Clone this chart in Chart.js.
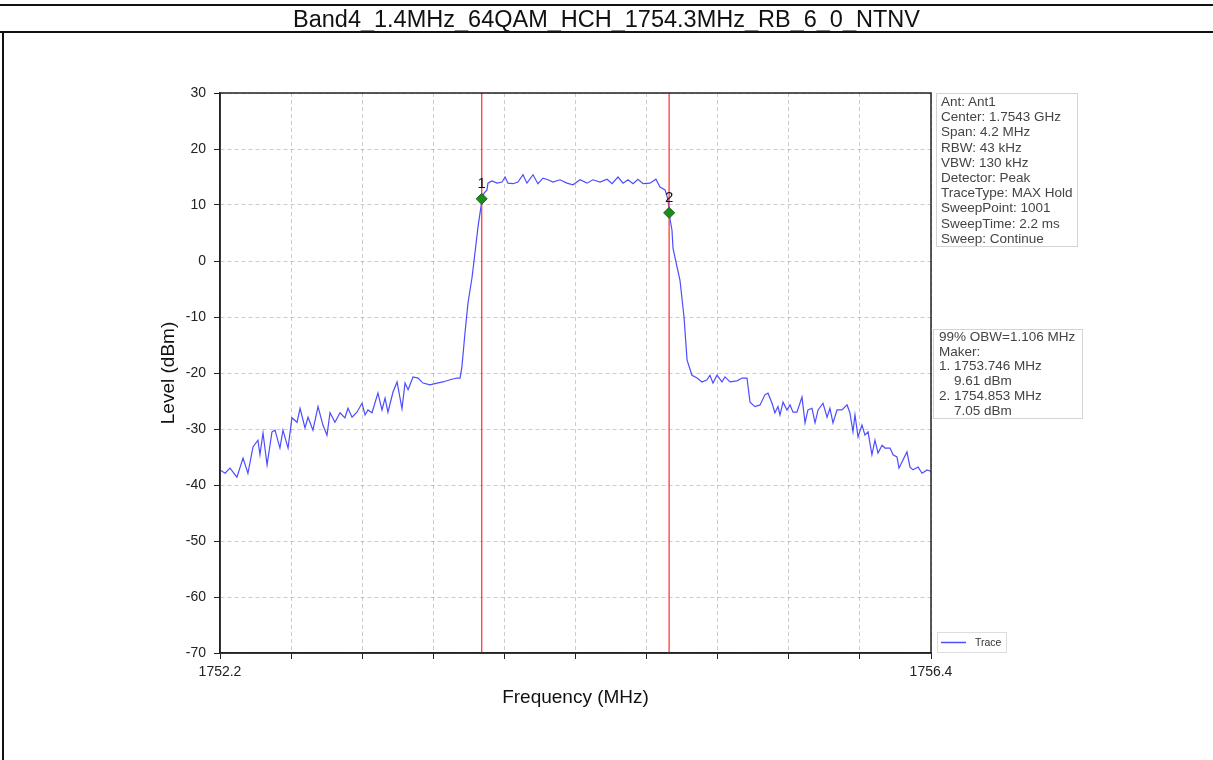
<!DOCTYPE html>
<html>
<head>
<meta charset="utf-8">
<script src="https://cdn.jsdelivr.net/npm/chart.js@4.4.1/dist/chart.umd.min.js"></script>
<style>
  body { margin: 0; background: #fff; font-family: Arial, "Liberation Sans", sans-serif; }
  #page { position: relative; width: 1213px; height: 760px; overflow: hidden; }
  #title { position: absolute; left: 0; top: 4px; width: 1213px; height: 29px;
    border-top: 2px solid #111; border-bottom: 2px solid #111; box-sizing: border-box;
    text-align: center; font-size: 23.5px; line-height: 27px; color: #111; }
  #leftRule { position: absolute; left: 2px; top: 33px; width: 2px; height: 727px; background: #111; }
  #wrap { position: absolute; left: 0; top: 0; width: 1213px; height: 760px; }
  .info { position: absolute; border: 1px solid #d4d4d4; color: #444; font-size: 13.5px;
    white-space: pre; box-sizing: border-box; }
  #info1 { left: 936px; top: 93px; width: 142px; height: 154px; padding: 0 0 0 4px; line-height: 15.2px; }
  #info2 { left: 933px; top: 329px; width: 150px; height: 90px; padding: 0 0 0 5px; line-height: 14.7px; }
</style>
</head>
<body>
<div id="page">
  <div id="wrap"><canvas id="c"></canvas></div>
  <div id="title">Band4_1.4MHz_64QAM_HCH_1754.3MHz_RB_6_0_NTNV</div>
  <div id="leftRule"></div>
  <div class="info" id="info1">Ant: Ant1
Center: 1.7543 GHz
Span: 4.2 MHz
RBW: 43 kHz
VBW: 130 kHz
Detector: Peak
TraceType: MAX Hold
SweepPoint: 1001
SweepTime: 2.2 ms
Sweep: Continue</div>
  <div class="info" id="info2">99% OBW=1.106 MHz
Maker:
1. 1753.746 MHz
    9.61 dBm
2. 1754.853 MHz
    7.05 dBm</div>
</div>
<script>
// trace (MHz / dBm)
const freqs = [
  1752.200, 1752.230, 1752.259, 1752.300, 1752.336, 1752.365, 1752.395, 1752.424, 1752.436, 1752.454,
  1752.478, 1752.507, 1752.525, 1752.554, 1752.572, 1752.602, 1752.625, 1752.655, 1752.673, 1752.702,
  1752.720, 1752.749, 1752.779, 1752.808, 1752.832, 1752.850, 1752.879, 1752.909, 1752.938, 1752.956,
  1752.980, 1753.009, 1753.039, 1753.057, 1753.074, 1753.098, 1753.133, 1753.157, 1753.175, 1753.192,
  1753.222, 1753.246, 1753.275, 1753.293, 1753.311, 1753.340, 1753.370, 1753.399, 1753.440, 1753.482,
  1753.517, 1753.559, 1753.600,
  1753.618, 1753.629, 1753.647, 1753.665, 1753.689, 1753.706, 1753.724, 1753.748, 1753.759, 1753.777,
  1753.783, 1753.807, 1753.836, 1753.866, 1753.884, 1753.901, 1753.931, 1753.960, 1753.990, 1754.013,
  1754.049, 1754.078, 1754.108, 1754.137, 1754.167, 1754.208, 1754.250, 1754.285, 1754.327, 1754.368,
  1754.403, 1754.445, 1754.486, 1754.516, 1754.551, 1754.581, 1754.610, 1754.640, 1754.669, 1754.699,
  1754.740, 1754.775, 1754.799, 1754.829, 1754.846, 1754.858, 1754.870, 1754.876, 1754.900, 1754.917,
  1754.941, 1754.959,
  1754.988, 1755.018, 1755.047, 1755.077, 1755.094, 1755.112, 1755.136, 1755.165, 1755.183, 1755.213,
  1755.254, 1755.284, 1755.313, 1755.331, 1755.360, 1755.390, 1755.419, 1755.437, 1755.461, 1755.478,
  1755.496, 1755.508, 1755.526, 1755.549, 1755.567, 1755.585, 1755.608, 1755.638, 1755.656, 1755.673,
  1755.697, 1755.715, 1755.733, 1755.762, 1755.786, 1755.803, 1755.821, 1755.845, 1755.874, 1755.904,
  1755.921, 1755.939, 1755.951, 1755.969, 1755.992, 1756.010, 1756.028, 1756.051, 1756.069, 1756.087,
  1756.111, 1756.128, 1756.158, 1756.176, 1756.199, 1756.211, 1756.235, 1756.258, 1756.276, 1756.294,
  1756.324, 1756.347, 1756.377, 1756.394, 1756.400
];
const levels = [
  -37.3, -37.9, -37.0, -38.6, -35.2, -37.9, -33.2, -32.0, -34.6, -30.7,
  -36.4, -30.5, -30.2, -33.4, -30.2, -33.4, -28.0, -28.8, -26.3, -29.8,
  -27.9, -30.2, -26.0, -29.3, -31.1, -27.1, -28.8, -27.1, -28.0, -26.3,
  -27.9, -27.0, -25.4, -27.5, -26.6, -27.1, -23.6, -26.6, -24.5, -27.0,
  -23.4, -21.6, -26.4, -21.8, -23.0, -20.7, -20.9, -21.8, -22.1, -21.8,
  -21.6, -21.2, -20.9,
  -20.9, -18.9, -12.9, -7.5, -2.9, 1.4, 6.1, 11.0, 12.1, 12.7,
  13.9, 14.3, 13.9, 14.1, 15.0, 13.9, 13.8, 14.1, 15.4, 13.9,
  15.4, 13.8, 14.8, 14.5, 14.1, 14.5, 13.9, 13.6, 14.5, 13.9,
  14.5, 14.1, 14.6, 13.8, 15.0, 13.9, 14.5, 13.8, 14.6, 13.8,
  13.9, 14.6, 13.2, 12.7, 11.0, 7.5, 5.5, 2.3, -1.1, -3.4,
  -10.0, -17.7,
  -20.4, -20.9, -21.6, -21.2, -20.4, -21.8, -20.4, -21.6, -20.7, -21.6,
  -21.4, -20.9, -20.9, -25.2, -26.0, -25.7, -23.9, -23.6, -25.4, -27.1,
  -26.0, -27.5, -25.2, -26.6, -25.7, -27.0, -27.0, -24.3, -28.9, -26.6,
  -26.3, -28.9, -26.6, -25.4, -27.9, -26.3, -28.9, -26.6, -26.6, -25.7,
  -27.1, -30.5, -27.5, -31.4, -29.3, -31.1, -30.5, -34.6, -32.0, -34.3,
  -32.9, -33.4, -33.4, -34.6, -35.0, -37.0, -35.5, -34.1, -36.8, -37.3,
  -36.8, -37.9, -37.3, -37.5, -37.6
];

const markerFreqs = [1753.746, 1754.853];
const markerLevels = [11.1, 8.6];

const xTicks = [1752.2, 1752.62, 1753.04, 1753.46, 1753.88, 1754.3, 1754.72, 1755.14, 1755.56, 1755.98, 1756.4];
const yMin = -70, yMax = 30, yStep = 10;

const gridColor = 'rgba(0,0,0,0.2)';
const tickFont = { family: 'Arial, "Liberation Sans", sans-serif', size: 14 };
const titleFont = { family: 'Arial, "Liberation Sans", sans-serif', size: 19 };

const trace = freqs.map((f, i) => ({ x: f, y: levels[i] }));
const markerLines = markerFreqs.map(f => [{ x: f, y: yMin }, { x: f, y: yMax }]);

const extras = {
  id: 'extras',
  afterDraw(chart) {
    const { ctx, chartArea: a, scales: { x, y } } = chart;
    ctx.save();
    // full frame round the plot
    ctx.strokeStyle = '#222';
    ctx.lineWidth = 1.5;
    ctx.strokeRect(a.left, a.top, a.right - a.left, a.bottom - a.top);
    // marker numbers
    ctx.fillStyle = '#111';
    ctx.font = '15px Arial, "Liberation Sans", sans-serif';
    ctx.textAlign = 'center';
    ctx.textBaseline = 'middle';
    markerFreqs.forEach((f, i) => {
      ctx.fillText(String(i + 1), x.getPixelForValue(f), y.getPixelForValue(markerLevels[i]) - 15);
    });
    // legend box, bottom right outside the plot
    const lx = a.right + 6, ly = a.bottom - 21;
    ctx.fillStyle = '#fff';
    ctx.fillRect(lx, ly, 69, 20);
    ctx.strokeStyle = '#ddd';
    ctx.lineWidth = 1;
    ctx.strokeRect(lx + 0.5, ly + 0.5, 69, 20);
    ctx.strokeStyle = chart.data.datasets[3].borderColor;
    ctx.lineWidth = 1.5;
    ctx.beginPath();
    ctx.moveTo(lx + 4, ly + 10.5);
    ctx.lineTo(lx + 29, ly + 10.5);
    ctx.stroke();
    ctx.fillStyle = '#333';
    ctx.font = '10.5px Arial, "Liberation Sans", sans-serif';
    ctx.textAlign = 'left';
    ctx.fillText(chart.data.datasets[3].label, lx + 38, ly + 11);
    ctx.restore();
  }
};

new Chart(document.getElementById('c'), {
  type: 'line',
  data: {
    datasets: [
      {
        label: 'Marker',
        data: markerFreqs.map((f, i) => ({ x: f, y: markerLevels[i] })),
        showLine: false,
        pointStyle: 'rectRot',
        pointRadius: 5.5,
        backgroundColor: '#1c8a1c',
        borderColor: '#136813',
        borderWidth: 1
      },
      {
        label: 'M1',
        data: markerLines[0],
        borderColor: '#ff3b3b',
        borderWidth: 1.3,
        pointRadius: 0
      },
      {
        label: 'M2',
        data: markerLines[1],
        borderColor: '#ff3b3b',
        borderWidth: 1.3,
        pointRadius: 0
      },
      {
        label: 'Trace',
        data: trace,
        borderColor: '#4d4dff',
        borderWidth: 1.2,
        pointRadius: 0,
        tension: 0
      }
    ]
  },
  options: {
    responsive: true,
    maintainAspectRatio: false,
    animation: false,
    layout: { padding: { left: 150, right: 282, top: 93, bottom: 47 } },
    plugins: { legend: { display: false }, tooltip: { enabled: false } },
    scales: {
      x: {
        type: 'linear',
        min: xTicks[0],
        max: xTicks[xTicks.length - 1],
        afterBuildTicks: s => { s.ticks = xTicks.map(v => ({ value: v })); },
        afterFit: s => { s.height = 60; s.paddingLeft = 0; s.paddingRight = 0; },
        ticks: {
          autoSkip: false,
          maxRotation: 0,
          padding: 5,
          color: '#222',
          font: tickFont,
          callback: (v, i) => (i === 0 || i === xTicks.length - 1) ? v.toFixed(1) : ''
        },
        grid: { color: gridColor, tickColor: '#222', tickLength: 6, lineWidth: 1 },
        border: { color: '#222', width: 1.5, dash: [4, 3] },
        title: { display: true, text: 'Frequency (MHz)', color: '#111', font: titleFont, padding: { top: 4, bottom: 4 } }
      },
      y: {
        min: yMin,
        max: yMax,
        afterFit: s => { s.width = 70; },
        ticks: { stepSize: yStep, padding: 8, color: '#222', font: tickFont },
        grid: { color: gridColor, tickColor: '#222', tickLength: 6, lineWidth: 1 },
        border: { color: '#222', width: 1.5, dash: [4, 3] },
        title: { display: true, text: 'Level (dBm)', color: '#111', font: titleFont, padding: { top: 7, bottom: 4 } }
      }
    }
  },
  plugins: [extras]
});
</script>
</body>
</html>
